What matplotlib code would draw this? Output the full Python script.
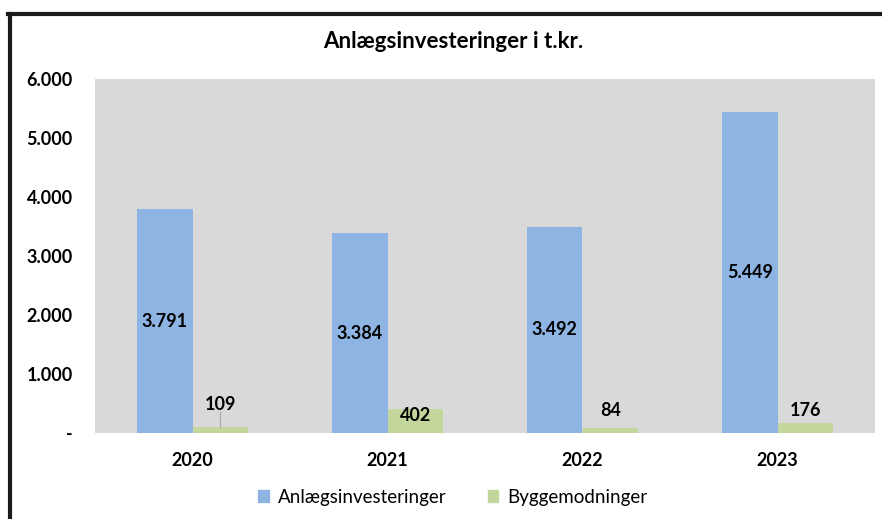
import matplotlib.pyplot as plt
from matplotlib.lines import Line2D
from matplotlib.patches import Patch

# Data
years = ['2020', '2021', '2022', '2023']
anlaeg = [3791, 3384, 3492, 5449]
bygge = [109, 402, 84, 176]
bygge_label_y = [490, 300, 375, 375]

plt.rcParams['font.family'] = ['Lato', 'DejaVu Sans']

fig = plt.figure(figsize=(8.82, 5.19), dpi=100)
ax = fig.add_axes([95 / 882, 1 - 433 / 519, 780 / 882, 354 / 519])
ax.set_facecolor('#D9D9D9')

x = range(len(years))
w = 0.285
ax.bar([i - w / 2 for i in x], anlaeg, w, color='#8EB4E3')
ax.bar([i + w / 2 for i in x], bygge, w, color='#C3D69B')

for i, v in enumerate(anlaeg):
    ax.text(i - w / 2, v / 2, f'{v:,}'.replace(',', '.'), ha='center', va='center',
            fontsize=13, fontweight='bold')
for i, v in enumerate(bygge):
    ax.text(i + w / 2, bygge_label_y[i], str(v), ha='center', va='center',
            fontsize=13, fontweight='bold')
    # leader line only when the label sits well above its bar
    if bygge_label_y[i] - v > 350:
        ax.plot([i + w / 2, i + w / 2], [v, bygge_label_y[i] - 140], color='#A6A6A6', lw=0.8)

ax.set_xlim(-0.5, 3.5)
ax.set_ylim(0, 6000)
ax.set_xticks(list(x))
ax.set_xticklabels(years, fontsize=13, fontweight='bold')
ax.set_yticks(range(0, 6001, 1000))
ax.set_yticklabels(['-'] + [f'{v:,}'.replace(',', '.') for v in range(1000, 6001, 1000)],
                   fontsize=13, fontweight='bold')
ax.tick_params(length=0, pad=16)
ax.tick_params(axis='x', pad=14)
for s in ax.spines.values():
    s.set_visible(False)

fig.text(453 / 882, 1 - 42 / 519, 'Anlægsinvesteringer i t.kr.', ha='center', va='center',
         fontsize=16, fontweight='bold')

handles = [Patch(color='#8EB4E3'), Patch(color='#C3D69B')]
fig.legend(handles, ['Anlægsinvesteringer', 'Byggemodninger'], loc='center',
           bbox_to_anchor=(453 / 882, 1 - 497 / 519), ncol=2, frameon=False, fontsize=13.5,
           handlelength=0.55, handleheight=0.55, columnspacing=2.2, handletextpad=0.5)

# chart border (left and top)
fig.add_artist(Line2D([10 / 882, 10 / 882], [0, 1 - 14 / 519], color='#1A1A1A', lw=3,
                      transform=fig.transFigure))
fig.add_artist(Line2D([8 / 882, 1], [1 - 14 / 519, 1 - 14 / 519], color='#1A1A1A', lw=3,
                      transform=fig.transFigure))

fig.savefig('out.png', dpi=100)
